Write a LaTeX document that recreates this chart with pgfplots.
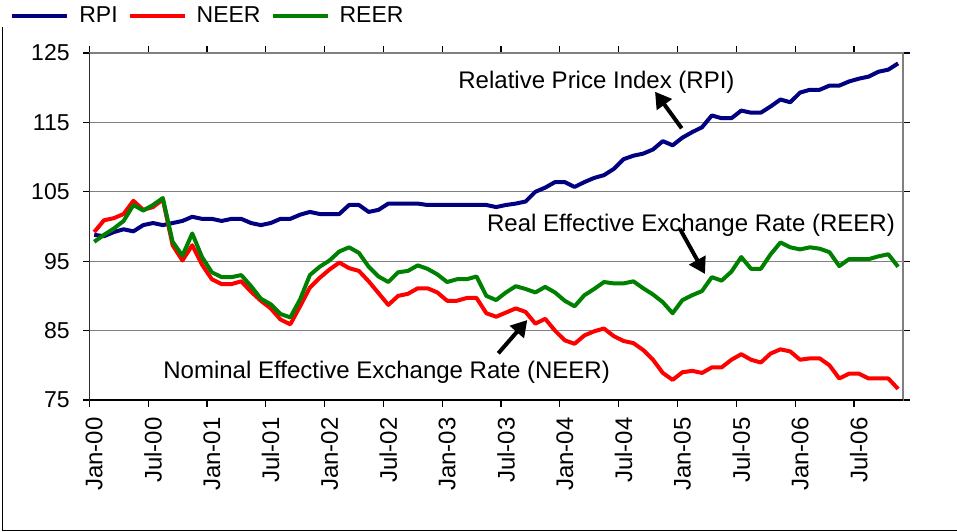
\documentclass[border=0pt]{standalone}
\usepackage{fontspec}
\setmainfont{Liberation Sans}
\usepackage{pgfplots}
\usepackage{pgfplotstable}
\pgfplotsset{compat=1.18}
\usetikzlibrary{arrows.meta}
\definecolor{rpi}{HTML}{000080}
\definecolor{neer}{HTML}{FF0000}
\definecolor{reer}{HTML}{008000}
\definecolor{gridc}{HTML}{808080}

\pgfplotstableread{
i rpi neer reer
0 98.8 99.2 97.8
1 98.6 100.9 98.8
2 99.2 101.2 99.7
3 99.6 101.8 100.8
4 99.3 103.7 103.1
5 100.2 102.4 102.3
6 100.5 102.8 103.1
7 100.2 103.9 104.1
8 100.5 97.3 97.8
9 100.8 95.1 95.8
10 101.4 97.3 99.0
11 101.1 94.5 95.6
12 101.1 92.4 93.4
13 100.8 91.7 92.7
14 101.1 91.7 92.7
15 101.1 92.1 93.0
16 100.5 90.6 91.4
17 100.2 89.3 89.6
18 100.5 88.2 88.8
19 101.1 86.6 87.4
20 101.1 85.9 86.9
21 101.7 88.5 89.5
22 102.1 91.2 93.0
23 101.8 92.6 94.2
24 101.8 93.8 95.1
25 101.8 94.8 96.4
26 103.1 94.0 97.0
27 103.1 93.6 96.2
28 102.1 92.1 94.2
29 102.4 90.4 92.8
30 103.3 88.7 92.0
31 103.3 90.0 93.4
32 103.3 90.3 93.6
33 103.3 91.1 94.4
34 103.1 91.1 93.9
35 103.1 90.5 93.1
36 103.1 89.3 92.0
37 103.1 89.3 92.4
38 103.1 89.7 92.4
39 103.1 89.7 92.8
40 103.1 87.5 90.0
41 102.8 87.0 89.4
42 103.1 87.6 90.5
43 103.3 88.2 91.4
44 103.6 87.7 91.0
45 105.0 86.0 90.5
46 105.6 86.7 91.3
47 106.4 85.0 90.5
48 106.4 83.6 89.3
49 105.7 83.1 88.5
50 106.4 84.3 90.1
51 107.0 84.9 91.0
52 107.4 85.3 92.0
53 108.3 84.2 91.8
54 109.7 83.5 91.8
55 110.2 83.2 92.1
56 110.5 82.2 91.1
57 111.1 80.8 90.2
58 112.3 78.9 89.1
59 111.7 77.9 87.5
60 112.8 79.0 89.4
61 113.6 79.2 90.1
62 114.3 78.9 90.7
63 116.0 79.7 92.7
64 115.6 79.7 92.2
65 115.6 80.8 93.5
66 116.7 81.6 95.6
67 116.4 80.8 93.9
68 116.4 80.4 93.9
69 117.3 81.7 96.0
70 118.3 82.3 97.7
71 117.9 82.0 97.0
72 119.3 80.8 96.7
73 119.7 81.0 97.0
74 119.7 81.0 96.8
75 120.3 80.0 96.3
76 120.3 78.1 94.3
77 120.9 78.8 95.3
78 121.3 78.8 95.3
79 121.6 78.1 95.3
80 122.3 78.1 95.7
81 122.6 78.1 96.0
82 123.5 76.6 94.2
}\datatable

\begin{document}
\begin{tikzpicture}
\useasboundingbox (0,0) rectangle (478.5pt,265.5pt);
\begin{axis}[
  at={(44.65pt,65.5pt)}, anchor=south west,
  scale only axis, width=406.85pt, height=173.5pt,
  xmin=-0.5, xmax=82.5, ymin=75, ymax=125,
  xtick={0,6,...,78},
  xticklabels={Jan-00,Jul-00,Jan-01,Jul-01,Jan-02,Jul-02,Jan-03,Jul-03,Jan-04,Jul-04,Jan-05,Jul-05,Jan-06,Jul-06},
  minor xtick={-0.5,5.5,...,77.5},
  ytick={75,85,...,125},
  minor ytick={75,85,...,125},
  major tick length=0pt, minor tick length=3.25pt,
  tick align=outside,
  tick style={black, line width=0.6pt},
  ymajorgrids, major grid style={gridc, line width=0.5pt},
  axis line style={gridc, line width=0.75pt},
  /pgf/number format/assume math mode=true,
  ticklabel style={font=\fontsize{11.5}{13}\selectfont},
  yticklabel style={anchor=east, inner sep=0pt, xshift=-9.65pt},
  xticklabel style={yshift=-8.5pt, rotate=90, anchor=east, inner sep=0pt, font=\fontsize{12}{14}\selectfont},
  legend columns=-1,
  legend style={at={(-0.0975,1.1075)}, anchor=west, draw=none, fill=none,
    column sep=5pt, inner sep=0pt, nodes={inner sep=0pt},
    font=\fontsize{11.5}{13}\selectfont},
  legend image code/.code={\draw[#1] (0pt,0pt) -- (27.5pt,0pt);},
]
\addplot[rpi, line width=2pt, line join=round] table[x=i,y=rpi]{\datatable};
\addplot[neer, line width=2pt, line join=round] table[x=i,y=neer]{\datatable};
\addplot[reer, line width=2pt, line join=round] table[x=i,y=reer]{\datatable};
\legend{RPI,NEER,REER}
\draw[black, line width=0.6pt] (rel axis cs:0,1) -- (rel axis cs:0,0) -- (rel axis cs:1,0);
\end{axis}
% outer frame (left and bottom visible)
\draw[black, line width=0.5pt] (1.35pt,252pt) -- (1.35pt,0.5pt) -- (478.5pt,0.5pt);
% annotations
\node[anchor=base west, inner sep=0pt, font=\fontsize{12}{14}\selectfont] at (229pt,221.35pt) {Relative Price Index (RPI)};
\node[anchor=base west, inner sep=0pt, font=\fontsize{12}{14}\selectfont] at (243.35pt,149.65pt) {Real Effective Exchange Rate (REER)};
\node[anchor=base west, inner sep=0pt, font=\fontsize{12}{14}\selectfont] at (81.5pt,76.35pt) {Nominal Effective Exchange Rate (NEER)};
\draw[black, line width=2pt, -{Triangle[length=8pt,width=9pt]}] (340.85pt,201.35pt) -- (327.5pt,219.65pt);
\draw[black, line width=2pt, -{Triangle[length=8pt,width=9pt]}] (340pt,151pt) -- (352.5pt,128.5pt);
\draw[black, line width=2pt, -{Triangle[length=8pt,width=9pt]}] (249.15pt,88.85pt) -- (263.65pt,105.5pt);
\end{tikzpicture}
\end{document}
